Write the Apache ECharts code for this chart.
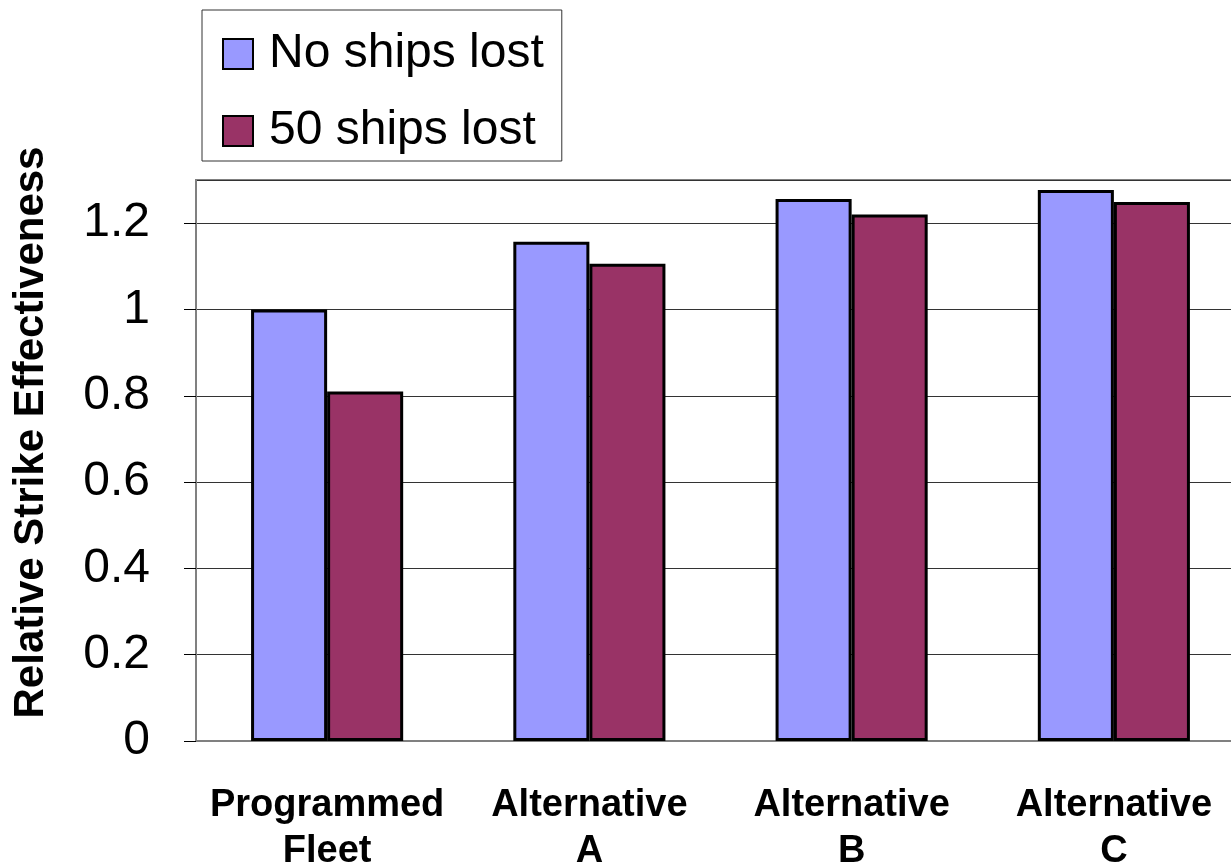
<!DOCTYPE html>
<html>
<head>
<meta charset="utf-8">
<script src="https://cdn.jsdelivr.net/npm/echarts@6/dist/echarts.min.js"></script>
<style>html,body{margin:0;padding:0;background:#fff;}#c{width:1231px;height:866px;}</style>
</head>
<body>
<div id="c"></div>
<script>
const categories = ['Programmed\nFleet', 'Alternative\nA', 'Alternative\nB', 'Alternative\nC'];
const noShipsLost = [1.0, 1.157, 1.256, 1.277];
const fiftyShipsLost = [0.81, 1.106, 1.22, 1.249];
const seriesNames = ['No ships lost', '50 ships lost'];
const yTitle = 'Relative Strike Effectiveness';

const chart = echarts.init(document.getElementById('c'));
chart.setOption({
  animation: false,
  backgroundColor: '#fff',
  textStyle: { fontFamily: 'Liberation Sans, Arial, sans-serif' },
  grid: { left: 196, top: 180, width: 1049, bottom: 125, containLabel: false, outerBoundsMode: 'none',
          show: true, borderColor: '#808080', borderWidth: 2, backgroundColor: 'transparent' },
  legend: {
    orient: 'vertical', left: 202, top: 10,
    padding: [20, 18, 6, 20],
    borderColor: '#333', borderWidth: 1, backgroundColor: '#fff',
    itemWidth: 30, itemHeight: 30, itemGap: 29,
    icon: 'rect',
    textStyle: { fontSize: 48, color: '#000', padding: [0, 0, 0, 11], lineHeight: 46 },
    data: seriesNames
  },
  xAxis: {
    type: 'category', data: categories,
    axisLine: { lineStyle: { color: '#808080', width: 2 } },
    axisTick: { show: false },
    axisLabel: { fontSize: 38, fontWeight: 'bold', color: '#000', lineHeight: 46, margin: 42, interval: 0 }
  },
  yAxis: {
    type: 'value', min: 0, max: 1.3, interval: 0.2,
    name: yTitle, nameLocation: 'middle', nameGap: 144,
    nameTextStyle: { fontSize: 42, fontWeight: 'bold', color: '#000', padding: [0, 0, 0, 56] },
    axisLine: { show: true, lineStyle: { color: '#808080', width: 2 } },
    axisTick: { show: true, length: 12, lineStyle: { color: '#000', width: 1 } },
    axisLabel: { fontSize: 48, color: '#000', margin: 46, showMaxLabel: false },
    splitLine: { show: true, lineStyle: { color: '#333', width: 1 } }
  },
  series: [
    { name: seriesNames[0], type: 'bar', data: noShipsLost, barGap: '0%', barCategoryGap: '42%',
      itemStyle: { color: '#9999FF', borderColor: '#000', borderWidth: 3 } },
    { name: seriesNames[1], type: 'bar', data: fiftyShipsLost, barGap: '0%', barCategoryGap: '42%',
      itemStyle: { color: '#993366', borderColor: '#000', borderWidth: 3 } }
  ]
});
</script>
</body>
</html>
